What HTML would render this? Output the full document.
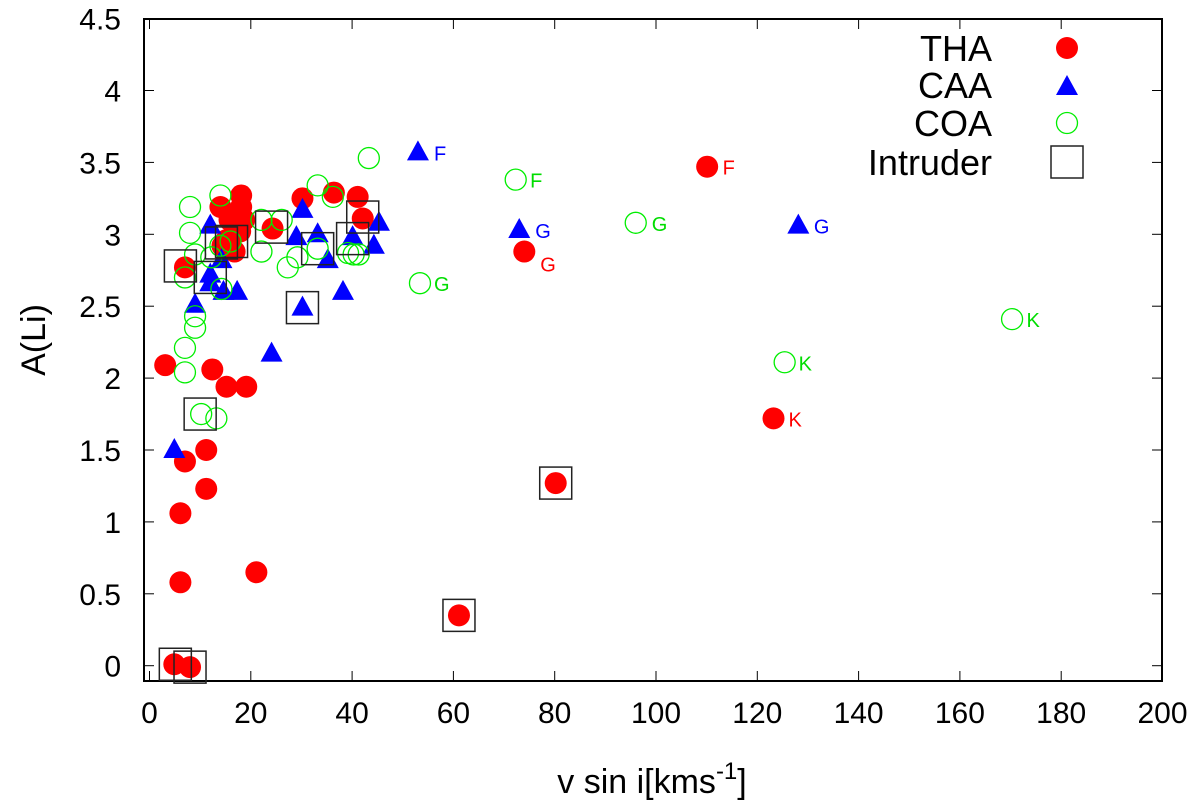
<!DOCTYPE html>
<html><head><meta charset="utf-8"><style>
html,body{margin:0;padding:0;background:#fff;}
svg{display:block;font-family:"Liberation Sans",sans-serif;}
</style></head><body>
<svg id="chart" width="1200" height="808" viewBox="0 0 1200 808"></svg>
<script>
const xTicks=[0,20,40,60,80,100,120,140,160,180,200];
const yTicks=[0,0.5,1,1.5,2,2.5,3,3.5,4,4.5];
const yTickLabels=["0","0.5","1","1.5","2","2.5","3","3.5","4","4.5"];
const thaV=[3.1,7,12.4,15.2,19.1,11.2,7,11.2,6.1,6.1,21.1,4.9,8,61.1,80.2,110.1,74,123.2,14,18.1,18.1,15.8,15.2,14.4,17.9,16.8,18.7,24.3,30.2,36.4,41.1,42.1];
const thaA=[2.09,2.77,2.06,1.94,1.94,1.50,1.42,1.23,1.06,0.58,0.65,0.01,-0.01,0.35,1.27,3.47,2.88,1.72,3.19,3.27,3.19,3.10,2.96,2.92,3.02,2.88,3.10,3.04,3.25,3.29,3.26,3.11];
const caaV=[4.9,24.1,30.2,9,38.2,53.0,73,128.1,12,30.2,29,33.2,35.2,40.1,45.3,44.3,12,12,14.2,14.6,17.3];
const caaA=[1.50,2.17,2.49,2.51,2.60,3.57,3.03,3.06,3.06,3.17,2.98,3.00,2.82,2.98,3.08,2.92,2.72,2.66,2.82,2.60,2.60];
const coaV=[8,8,9,7,12.2,14,14,16,14.2,9,9,22.1,22.1,26.1,33.2,36.2,29.2,27.3,33.2,43.3,39.2,40.3,41.3,7,7,10.2,13.2,53.4,72.3,96,170.3,125.4];
const coaA=[3.19,3.01,2.86,2.70,2.84,3.27,2.92,2.95,2.62,2.43,2.35,3.10,2.88,3.10,3.34,3.26,2.84,2.77,2.90,3.53,2.87,2.86,2.86,2.21,2.04,1.75,1.72,2.66,3.38,3.08,2.41,2.11];
const intV=[6.1,10,5.1,8,61.1,80.2,30.2,12,14.2,16.2,24.1,33.2,42.1,40.1];
const intA=[2.78,1.75,0.01,-0.01,0.35,1.27,2.49,2.70,2.94,2.95,3.05,2.90,3.12,2.97];
const annText=["F","G","G","F","F","G","G","K","K","K","G"];
const annV=[53,73,74,110,72,96,53,170,125,123,128];
const annA=[3.57,3.03,2.88,3.47,3.38,3.08,2.66,2.41,2.11,1.72,3.06];
const annColor=["#0000ff","#0000ff","#ff0000","#ff0000","#00dd00","#00dd00","#00dd00","#00dd00","#00dd00","#ff0000","#0000ff"];
const annDy=[0,0,12,0,0,0,0,0,0,0,0];

const L=144,R=1162,T=19,B=681;
const X=v=>149.5+v*5.065;
const Y=a=>665.7-a*143.8;
const NS="http://www.w3.org/2000/svg";
const svg=document.getElementById('chart');
function mk(tag,attrs,parent){const e=document.createElementNS(NS,tag);for(const k in attrs)e.setAttribute(k,attrs[k]);(parent||svg).appendChild(e);return e;}

const ticksG=mk('g',{});


xTicks.forEach(t=>{
  const x=X(t);
  mk('line',{x1:x,x2:x,y1:B,y2:B-10,stroke:'#000','stroke-width':1},ticksG);
  mk('line',{x1:x,x2:x,y1:T,y2:T+10,stroke:'#000','stroke-width':1},ticksG);
  const tx=mk('text',{x:x,y:723,'font-size':30,'text-anchor':'middle',fill:'#000'});
  
  
  tx.textContent=t;
});
yTicks.forEach((t,i)=>{
  const y=Y(t);
  mk('line',{x1:L,x2:L+10,y1:y,y2:y,stroke:'#000','stroke-width':1},ticksG);
  mk('line',{x1:R,x2:R-10,y1:y,y2:y,stroke:'#000','stroke-width':1},ticksG);
  const tx=mk('text',{x:121,y:y+11,'font-size':30,'text-anchor':'end',fill:'#000'});
  
  
  tx.textContent=yTickLabels[i];
});
const frame=mk('rect',{x:L,y:T,width:R-L,height:B-T,fill:'none',stroke:'#000','stroke-width':2});



function tri(cx,cy,g){return mk('polygon',{points:`${cx},${cy-12} ${cx-11},${cy+8} ${cx+11},${cy+8}`,fill:'#0000ff'},g);}

const gTha=mk('g',{});


thaV.forEach((v,i)=>{const c=mk('circle',{cx:X(v),cy:Y(thaA[i]),r:11,fill:'#ff0000'},gTha);

});

const gCaa=mk('g',{});


caaV.forEach((v,i)=>{const p=tri(X(v),Y(caaA[i]),gCaa);

});

const gCoa=mk('g',{});


coaV.forEach((v,i)=>{const c=mk('circle',{cx:X(v),cy:Y(coaA[i]),r:10.5,fill:'none',stroke:'#00ee00','stroke-width':1.3},gCoa);

});

const gInt=mk('g',{});


intV.forEach((v,i)=>{const r=mk('rect',{x:X(v)-16,y:Y(intA[i])-16,width:32,height:32,fill:'none',stroke:'#222','stroke-width':1.5},gInt);

});

annText.forEach((s,i)=>{const t=mk('text',{x:X(annV[i])+16,y:Y(annA[i])+8+annDy[i],'font-size':20,fill:annColor[i]});


t.textContent=s;});

const lg=mk('g',{});


const names=["THA","CAA","COA","Intruder"], ly=[48,85,123,162];
names.forEach((n,i)=>{const t=mk('text',{x:992,y:ly[i]+13,'font-size':36,'text-anchor':'end',fill:'#000'},lg);


t.textContent=n;});
mk('circle',{cx:1067,cy:ly[0],r:11,fill:'#ff0000'},lg);
tri(1067,ly[1]+2,lg);
mk('circle',{cx:1067,cy:ly[2],r:10.5,fill:'none',stroke:'#00ee00','stroke-width':1.3},lg);
mk('rect',{x:1051,y:ly[3]-16,width:32,height:32,fill:'none',stroke:'#222','stroke-width':1.5},lg);

const xt=mk('text',{x:652,y:793,'font-size':34,'text-anchor':'middle',fill:'#000'});


xt.innerHTML='v sin i[kms<tspan dy="-14" font-size="24">-1</tspan><tspan dy="14">]</tspan>';
const yt=mk('text',{x:0,y:0,'font-size':34,'text-anchor':'middle',fill:'#000',transform:'translate(45,340) rotate(-90)'});


yt.textContent='A(Li)';
</script>
</body></html>
